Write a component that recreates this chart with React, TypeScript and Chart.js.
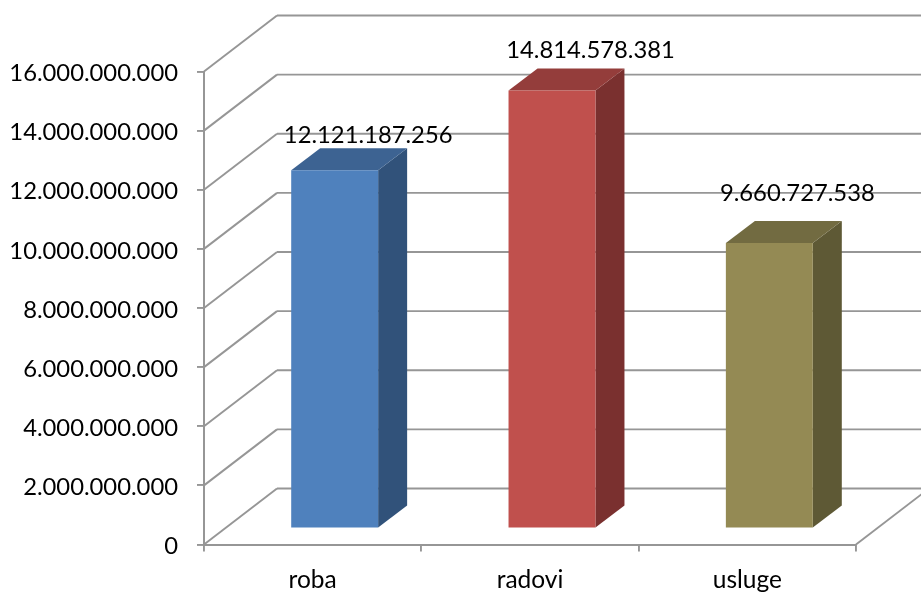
import React, { useEffect, useRef } from "react";
import { Chart, registerables } from "chart.js";

Chart.register(...registerables);

const categories = ["roba", "radovi", "usluge"];
const values = [12121187256, 14814578381, 9660727538];
const valueLabels = ["12.121.187.256", "14.814.578.381", "9.660.727.538"];
const frontColors = ["#4F81BD", "#C0504D", "#948A54"];
const topColors = ["#3D6392", "#943D3B", "#726B41"];
const sideColors = ["#31527A", "#7A302F", "#5E5935"];
const labelShiftX = [33.5, 38.5, 28];
const labelShiftY = [-35, -40, -50];

const FONT = "Lato";
const GRID = "#969696";
const WALL_DX = 73;
const WALL_DY = -56;
const BAR_DX = 22;
const BAR_DY = -16;
const DEPTH_DX = 29;
const DEPTH_DY = -22;

const line = (c: CanvasRenderingContext2D, x1: number, y1: number, x2: number, y2: number) => {
  c.beginPath();
  c.moveTo(x1, y1);
  c.lineTo(x2, y2);
  c.stroke();
};

const poly = (c: CanvasRenderingContext2D, pts: number[][], fill: string) => {
  c.beginPath();
  pts.forEach((p, i) => (i ? c.lineTo(p[0], p[1]) : c.moveTo(p[0], p[1])));
  c.closePath();
  c.fillStyle = fill;
  c.fill();
};

const nudgeLabels = (s: any, dy: number) => {
  if (s.__nudged) return;
  s.__nudged = true;
  const draw = s.drawLabels;
  s.drawLabels = function (area: any) {
    const c = this.ctx;
    c.save();
    c.translate(0, dy);
    draw.call(this, area);
    c.restore();
  };
};

const bars3d = {
  id: "bars3d",
  beforeDatasetsDraw(chart: any) {
    const c: CanvasRenderingContext2D = chart.ctx;
    const { x, y } = chart.scales;
    const left = x.left;
    const right = x.right;
    c.save();
    c.strokeStyle = GRID;
    c.lineWidth = 1.9;
    y.ticks.forEach((t: any) => {
      const py = y.getPixelForValue(t.value);
      line(c, left, py, left + WALL_DX, py + WALL_DY);
      line(c, left + WALL_DX, py + WALL_DY, right + WALL_DX, py + WALL_DY);
    });
    const by = y.getPixelForValue(0);
    line(c, right, by, right + WALL_DX, by + WALL_DY);
    c.restore();

    const meta = chart.getDatasetMeta(0);
    c.save();
    meta.data.forEach((el: any, i: number) => {
      const p = el.getProps(["x", "y", "base", "width"], true);
      const l = p.x - p.width / 2 + BAR_DX;
      const r = p.x + p.width / 2 + BAR_DX;
      const t = p.y + BAR_DY;
      const b = p.base + BAR_DY;
      poly(c, [[r, t], [r + DEPTH_DX, t + DEPTH_DY], [r + DEPTH_DX, b + DEPTH_DY], [r, b]], sideColors[i]);
      poly(c, [[l, t], [l + DEPTH_DX, t + DEPTH_DY], [r + DEPTH_DX, t + DEPTH_DY], [r, t]], topColors[i]);
    });
    c.restore();
    c.save();
    c.translate(BAR_DX, BAR_DY);
  },
  afterDatasetsDraw(chart: any) {
    const c: CanvasRenderingContext2D = chart.ctx;
    c.restore();
    const meta = chart.getDatasetMeta(0);
    c.save();
    c.font = `23.8px ${FONT}`;
    c.fillStyle = "#000000";
    c.textAlign = "center";
    c.textBaseline = "middle";
    meta.data.forEach((el: any, i: number) => {
      const p = el.getProps(["x", "y"], true);
      c.fillText(
        valueLabels[i],
        p.x + BAR_DX + labelShiftX[i],
        p.y + BAR_DY + labelShiftY[i]
      );
    });
    c.restore();
  },
};

export default function App() {
  const ref = useRef<HTMLCanvasElement>(null);
  useEffect(() => {
    const chart = new Chart(ref.current!, {
      type: "bar",
      data: {
        labels: categories,
        datasets: [
          {
            data: values,
            backgroundColor: frontColors,
            borderWidth: 0,
            barPercentage: 0.4,
            categoryPercentage: 1,
          },
        ],
      },
      plugins: [bars3d],
      options: {
        animation: false,
        responsive: false,
        layout: { padding: { top: 71.5, right: 65, left: 0, bottom: 0 } },
        plugins: { legend: { display: false }, tooltip: { enabled: false }, title: { display: false } },
        scales: {
          x: {
            afterFit: (s: any) => {
              s.height = 49.5;
              nudgeLabels(s, 0);
            },
            grid: {
              offset: true,
              drawOnChartArea: false,
              drawTicks: true,
              tickLength: 7,
              color: GRID,
              lineWidth: 1.9,
            },
            border: { display: true, color: GRID, width: 2 },
            ticks: { color: "#000", font: { family: FONT, size: 24.5 }, padding: 14, maxRotation: 0 },
          },
          y: {
            min: 0,
            max: 16000000000,
            afterFit: (s: any) => {
              s.width = 204;
              nudgeLabels(s, 2);
            },
            grid: {
              drawOnChartArea: false,
              drawTicks: true,
              tickLength: 7,
              color: GRID,
              lineWidth: 1.9,
            },
            border: { display: true, color: GRID, width: 2 },
            ticks: {
              stepSize: 2000000000,
              color: "#000",
              font: { family: FONT, size: 23.8 },
              padding: 19,
              callback: (v: any) => String(Math.round(Number(v))).replace(/\B(?=(\d{3})+(?!\d))/g, "."),
            },
          },
        },
      },
    } as any);
    return () => chart.destroy();
  }, []);
  return (
    <div style={{ position: "fixed", left: 0, top: 0, width: 921, height: 594, background: "#fff" }}>
      <canvas ref={ref} width={921} height={594} style={{ display: "block" }} />
    </div>
  );
}
